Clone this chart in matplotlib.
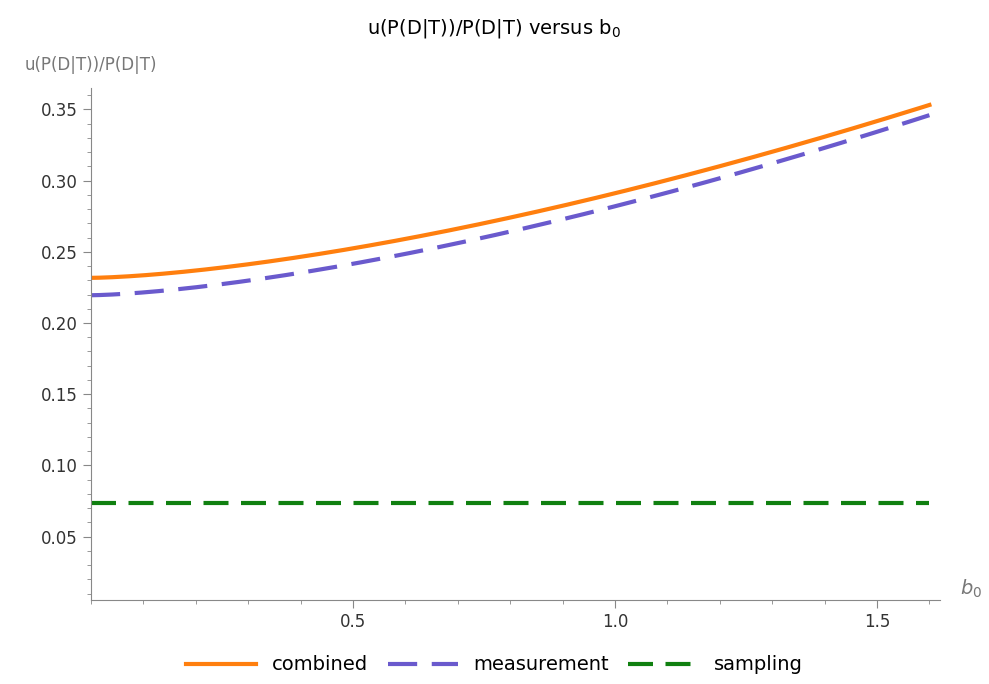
import numpy as np
import matplotlib
matplotlib.use('Agg')
import matplotlib.pyplot as plt
from matplotlib.ticker import MultipleLocator

# values
b0 = [0.0, 0.25, 0.5, 0.75, 1.0, 1.25, 1.6]
combined = [0.2347, 0.2370, 0.2495, 0.2682, 0.2930, 0.3200, 0.3500]
measurement = [0.2227, 0.2256, 0.2383, 0.2574, 0.2840, 0.3128, 0.3423]
sampling = [0.0735] * len(b0)


def smooth(x, y, xs):
    # convex fit y = a + c * x**p, p picked by least squares
    x, y = np.asarray(x), np.asarray(y)
    best = None
    for p in np.linspace(1.2, 3.0, 91):
        A = np.vstack([np.ones_like(x), x ** p]).T
        coef, res, *_ = np.linalg.lstsq(A, y, rcond=None)
        err = np.sum((A @ coef - y) ** 2)
        if best is None or err < best[0]:
            best = (err, p, coef)
    _, p, coef = best
    return coef[0] + coef[1] * xs ** p


xs = np.linspace(0, 1.6, 200)
cs = smooth(b0, combined, xs)
ms = smooth(b0, measurement, xs)

fig = plt.figure(figsize=(9.89, 6.84), dpi=100)
ax = fig.add_axes([91/989, 1-600/684, (940-91)/989, (600-88)/684])
ax.plot(xs, cs, color='#ff7f0e', lw=3, label='combined')
ax.plot(xs, ms, color='#6a5acd', lw=3, dashes=(7, 3.5), label='measurement')
ax.plot(b0, sampling, color='#108010', lw=3, dashes=(6, 3), label='sampling')

ax.set_xlim(0, (940-91)/524)
ax.set_ylim(0.0055, 0.365)
for s in ['top', 'right']:
    ax.spines[s].set_visible(False)
for s in ['left', 'bottom']:
    ax.spines[s].set_color('#888888')
ax.xaxis.set_minor_locator(MultipleLocator(0.1))
ax.yaxis.set_minor_locator(MultipleLocator(0.01))
ax.set_xticks([0.5, 1.0, 1.5])
ax.set_xticklabels(['0.5', '1.0', '1.5'])
ax.set_yticks([0.05, 0.10, 0.15, 0.20, 0.25, 0.30, 0.35])
ax.set_yticklabels(['0.05', '0.10', '0.15', '0.20', '0.25', '0.30', '0.35'])
ax.tick_params(which='both', colors='#888888', labelcolor='#333333', labelsize=12)
ax.tick_params(which='major', length=6)
ax.tick_params(which='minor', length=3)

ax.text(0.0, 0.375, 'u(P(D|T))/P(D|T)', color='#777777', fontsize=12, ha='center', va='bottom')
ax.text(1.68, 0.0055, '$b_0$', color='#777777', fontsize=14, ha='center', va='bottom')
fig.text(0.5, 1-28/684, 'u(P(D|T))/P(D|T) versus $\\mathregular{b_0}$', ha='center', va='center', fontsize=14)
fig.legend(loc='center', bbox_to_anchor=(0.5, 1-665/684), ncol=3, frameon=False,
           fontsize=14, handlelength=3.6, columnspacing=1.0)

fig.savefig('out.png', dpi=100, facecolor='white')
